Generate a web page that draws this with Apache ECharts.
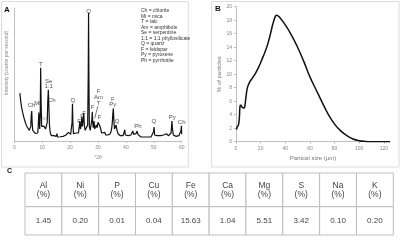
<!DOCTYPE html>
<html>
<head>
<meta charset="utf-8">
<script src="https://cdn.jsdelivr.net/npm/echarts@6/dist/echarts.min.js"></script>
<style>
  html, body { margin: 0; padding: 0; background: #fff; }
  #chart { width: 400px; height: 240px; }
</style>
</head>
<body>
<div id="chart"></div>
<script>
// Panel A: XRD pattern, [°2θ, intensity]
const xrdPoints = [
  [2.0, 360], [2.3, 300], [2.6, 255], [3.0, 215], [3.4, 180], [3.8, 150], [4.2, 125], [4.6, 105],
  [5.0, 92], [5.4, 80], [5.7, 75], [5.9, 110], [6.1, 200], [6.25, 225], [6.4, 140], [6.6, 80],
  [7.0, 65], [7.5, 58], [8.0, 55], [8.4, 60], [8.6, 120], [8.8, 215], [8.95, 150], [9.1, 90],
  [9.3, 200], [9.45, 550], [9.6, 300], [9.8, 110], [10.0, 95], [10.3, 110], [10.6, 112], [10.9, 100],
  [11.2, 90], [11.5, 95], [11.8, 140], [12.0, 300], [12.2, 385], [12.4, 260], [12.6, 120], [12.9, 60],
  [13.3, 40], [13.7, 35], [14.2, 40], [14.6, 30], [15.0, 35], [15.3, 55], [15.5, 30], [16.0, 28],
  [16.5, 32], [17.0, 30], [17.5, 35], [18.0, 33], [18.5, 45], [19.0, 60], [19.4, 65], [19.8, 55],
  [20.2, 50], [20.5, 60], [20.7, 140], [20.85, 280], [21.0, 140], [21.2, 55], [21.6, 45], [22.0, 60],
  [22.3, 50], [22.7, 70], [23.0, 60], [23.3, 110], [23.5, 150], [23.7, 90], [24.0, 120], [24.2, 180],
  [24.4, 110], [24.7, 160], [24.9, 210], [25.1, 120], [25.4, 80], [25.7, 95], [26.0, 80], [26.3, 120],
  [26.5, 500], [26.62, 962], [26.75, 450], [26.9, 110], [27.2, 80], [27.5, 95], [27.8, 160], [27.95, 220],
  [28.1, 140], [28.3, 100], [28.6, 150], [28.8, 90], [29.1, 85], [29.4, 120], [29.7, 100], [30.0, 140],
  [30.2, 150], [30.5, 120], [30.8, 130], [31.0, 90], [31.3, 60], [31.6, 75], [32.0, 50], [32.4, 65],
  [32.8, 45], [33.2, 55], [33.6, 45], [34.0, 60], [34.4, 55], [34.8, 80], [35.1, 130], [35.3, 200],
  [35.5, 245], [35.7, 150], [35.9, 90], [36.2, 85], [36.5, 120], [36.8, 80], [37.2, 55], [37.6, 45],
  [38.0, 40], [38.5, 45], [39.0, 40], [39.4, 50], [39.6, 85], [39.8, 45], [40.3, 35], [40.8, 40],
  [41.3, 30], [41.8, 45], [42.2, 60], [42.5, 75], [42.8, 50], [43.2, 40], [43.6, 55], [44.0, 75],
  [44.3, 50], [44.8, 35], [45.4, 30], [46.0, 35], [46.6, 30], [47.2, 35], [47.8, 30], [48.4, 35],
  [49.0, 30], [49.6, 40], [49.9, 70], [50.1, 105], [50.3, 45], [50.7, 35], [51.2, 40], [51.8, 35],
  [52.4, 40], [53.0, 35], [53.5, 45], [54.0, 40], [54.5, 55], [54.8, 45], [55.3, 40], [55.8, 45],
  [56.2, 60], [56.5, 150], [56.7, 90], [57.0, 45], [57.5, 40], [58.0, 35], [58.5, 45], [59.0, 40],
  [59.5, 50], [59.75, 80], [59.9, 115], [60.0, 50]
];

// peak labels: [°2θ, intensity, text]
const peakLabels = [
  [6.2, 265, 'Ch'], [8.3, 280, 'Mi'], [9.5, 575, 'T'], [12.3, 451, 'Se'], [12.3, 413, '1:1'],
  [13.4, 308, 'Ch'], [21.0, 308, 'Q'], [23.2, 150, 'F'], [24.3, 183, 'F'], [25.0, 208, 'F'],
  [26.6, 977, 'Q'], [28.1, 253, 'F'], [30.2, 371, 'F'], [30.2, 329, 'Am'], [30.2, 283, 'T'],
  [30.5, 178, 'F'], [35.3, 316, 'F'], [35.3, 278, 'Py'], [36.8, 145, 'Q'], [44.3, 108, 'Ph'],
  [50.0, 145, 'Q'], [56.6, 178, 'Py'], [60.0, 141, 'Ch']
];
const greyLabels = [[10.8, 170, 'Am']];
const pointerLine = [[29.95, 262], [28.8, 170]];

const legendLines = [
  'Ch = chlorite', 'Mi = mica', 'T = talc', 'Am = amphibole', 'Se = serpentine',
  '1:1 = 1:1 phyllosilicate', 'Q = quartz', 'F = feldspar', 'Py = pyroxene', 'Ph = pyrrhotite'
];

// Panel B: particle size distribution
const sizeUm = [0.3, 1, 2, 2.7, 3.3, 4, 5, 6, 7, 8, 9, 10, 11, 12, 14, 16, 18, 20, 22, 24, 26, 28, 30,
  32, 33, 35, 40, 45, 50, 55, 60, 65, 70, 75, 80, 85, 90, 95, 100, 105, 110, 115, 120, 125];
const particlePct = [1.8, 2.2, 2.5, 3.5, 5.3, 5.4, 5.1, 5.0, 5.1, 6.5, 7.8, 8.4, 8.8, 9.1, 9.6, 10.2, 10.9, 11.7, 12.6, 13.5, 14.6, 16.0, 17.5,
  18.6, 18.75, 18.5, 17.3, 15.8, 14.0, 11.9, 9.6, 7.7, 5.8, 4.0, 2.6, 1.6, 0.9, 0.4, 0.15, 0.04, 0, 0, 0, 0];

// Panel C: elemental composition
const elements = ['Al', 'Ni', 'P', 'Cu', 'Fe', 'Ca', 'Mg', 'S', 'Na', 'K'];
const elementPct = [1.45, 0.20, 0.01, 0.04, 15.63, 1.04, 5.51, 3.42, 0.10, 0.20];

const FONT = 'Liberation Sans, Arial, sans-serif';
const HEADER_SPLIT = 0.456;

const chart = echarts.init(document.getElementById('chart'));

const axisGrey = { lineStyle: { color: '#bfbfbf', width: 1 } };
const tickLabel = { fontSize: 5, color: '#888', fontFamily: FONT };

const option = {
  animation: false,
  textStyle: { fontFamily: FONT },
  grid: [
    { left: 14.3, top: 8, width: 167.4, height: 133 },
    { left: 236, top: 6.7, width: 154, height: 135 },
    { left: 25, top: 173, width: 368.3, height: 62 }
  ],
  xAxis: [
    {
      gridIndex: 0, type: 'value', min: 0, max: 60, interval: 10,
      axisLine: axisGrey, axisTick: { show: true, length: 2, lineStyle: { color: '#bfbfbf' } },
      axisLabel: Object.assign({ margin: 4 }, tickLabel),
      splitLine: { show: false },
      name: '°2θ', nameLocation: 'middle', nameGap: 13,
      nameTextStyle: { fontSize: 5, color: '#888' }
    },
    {
      gridIndex: 1, type: 'value', min: 0, max: 125, interval: 20,
      axisLine: axisGrey, axisTick: { show: true, length: 2, lineStyle: { color: '#bfbfbf' } },
      axisLabel: Object.assign({ margin: 4, showMaxLabel: false }, tickLabel),
      splitLine: { show: false },
      name: 'Partical size (µm)', nameLocation: 'middle', nameGap: 11,
      nameTextStyle: { fontSize: 6, color: '#777' }
    },
    {
      gridIndex: 2, type: 'category', data: elements, show: false
    }
  ],
  yAxis: [
    {
      gridIndex: 0, type: 'value', min: 0, max: 1000,
      axisLine: { show: true, lineStyle: { color: '#bfbfbf' } },
      axisTick: { show: false }, axisLabel: { show: false }, splitLine: { show: false }
    },
    {
      gridIndex: 1, type: 'value', min: 0, max: 20, interval: 2,
      axisLine: { show: true, lineStyle: { color: '#bfbfbf' } },
      axisTick: { show: true, length: 2, lineStyle: { color: '#bfbfbf' } },
      axisLabel: Object.assign({ margin: 4 }, tickLabel),
      splitLine: { show: false },
      name: '% of particles', nameLocation: 'middle', nameGap: 11,
      nameTextStyle: { fontSize: 6, color: '#777' }
    },
    {
      gridIndex: 2, type: 'value', min: 0, max: 1, show: false
    }
  ],
  series: [
    {
      type: 'line', xAxisIndex: 0, yAxisIndex: 0, data: xrdPoints,
      showSymbol: false, lineStyle: { color: '#111', width: 1.2 }
    },
    {
      type: 'line', xAxisIndex: 0, yAxisIndex: 0, data: pointerLine,
      showSymbol: false, lineStyle: { color: '#222', width: 0.6 }
    },
    {
      type: 'scatter', xAxisIndex: 0, yAxisIndex: 0, data: peakLabels, symbolSize: 0,
      label: {
        show: true, position: 'inside', fontSize: 6, color: '#222',
        formatter: p => p.data[2]
      }
    },
    {
      type: 'scatter', xAxisIndex: 0, yAxisIndex: 0, data: greyLabels, symbolSize: 0,
      label: {
        show: true, position: 'inside', fontSize: 5, color: '#999',
        formatter: p => p.data[2]
      }
    },
    {
      type: 'line', xAxisIndex: 1, yAxisIndex: 1,
      data: sizeUm.map((x, i) => [x, particlePct[i]]),
      showSymbol: false, smooth: 0.4,
      lineStyle: { color: '#111', width: 1.5 }
    },
    {
      type: 'custom', xAxisIndex: 2, yAxisIndex: 2,
      data: elementPct.map((v, i) => [i, v]),
      renderItem: (params, api) => {
        const i = api.value(0);
        const top = api.coord([i, 1]);
        const mid = api.coord([i, HEADER_SPLIT]);
        const bot = api.coord([i, 0]);
        const w = api.size([1, 0])[0];
        const x0 = top[0] - w / 2;
        const cellStyle = { fill: '#fff', stroke: '#bdbdbd', lineWidth: 1 };
        return {
          type: 'group',
          children: [
            { type: 'rect', shape: { x: x0, y: top[1], width: w, height: mid[1] - top[1] }, style: cellStyle },
            { type: 'rect', shape: { x: x0, y: mid[1], width: w, height: bot[1] - mid[1] }, style: cellStyle },
            {
              type: 'text',
              style: {
                x: top[0], y: (top[1] + mid[1]) / 2, text: elements[i] + '\n(%)',
                align: 'center', verticalAlign: 'middle', fontSize: 8.5, lineHeight: 9,
                fill: '#444', fontFamily: FONT
              }
            },
            {
              type: 'text',
              style: {
                x: top[0], y: (mid[1] + bot[1]) / 2, text: api.value(1).toFixed(2),
                align: 'center', verticalAlign: 'middle', fontSize: 8, fill: '#444', fontFamily: FONT
              }
            }
          ]
        };
      }
    }
  ],
  graphic: [
    { type: 'rect', shape: { x: 1.5, y: 1.5, width: 186.8, height: 165.5 }, style: { fill: 'none', stroke: '#dcdcdc' }, z: -1 },
    { type: 'rect', shape: { x: 211.7, y: 1.5, width: 187.3, height: 165.5 }, style: { fill: 'none', stroke: '#dcdcdc' }, z: -1 },
    { type: 'text', x: 4, y: 6, style: { text: 'A', fontSize: 8, fontWeight: 'bold', fill: '#111', fontFamily: FONT } },
    { type: 'text', x: 215, y: 5, style: { text: 'B', fontSize: 8, fontWeight: 'bold', fill: '#111', fontFamily: FONT } },
    { type: 'text', x: 7, y: 167.5, style: { text: 'C', fontSize: 7, fontWeight: 'bold', fill: '#111', fontFamily: FONT } },
    {
      type: 'text', x: 141, y: 8.3,
      style: { text: legendLines.join('\n'), fontSize: 5, lineHeight: 5.5, fill: '#333', fontFamily: FONT }
    },
    {
      type: 'text', x: 7, y: 63, rotation: Math.PI / 2,
      style: {
        text: 'Intensity (counts per second)', fontSize: 5, fill: '#888',
        align: 'center', verticalAlign: 'middle', fontFamily: FONT
      }
    }
  ]
};

chart.setOption(option);
</script>
</body>
</html>
